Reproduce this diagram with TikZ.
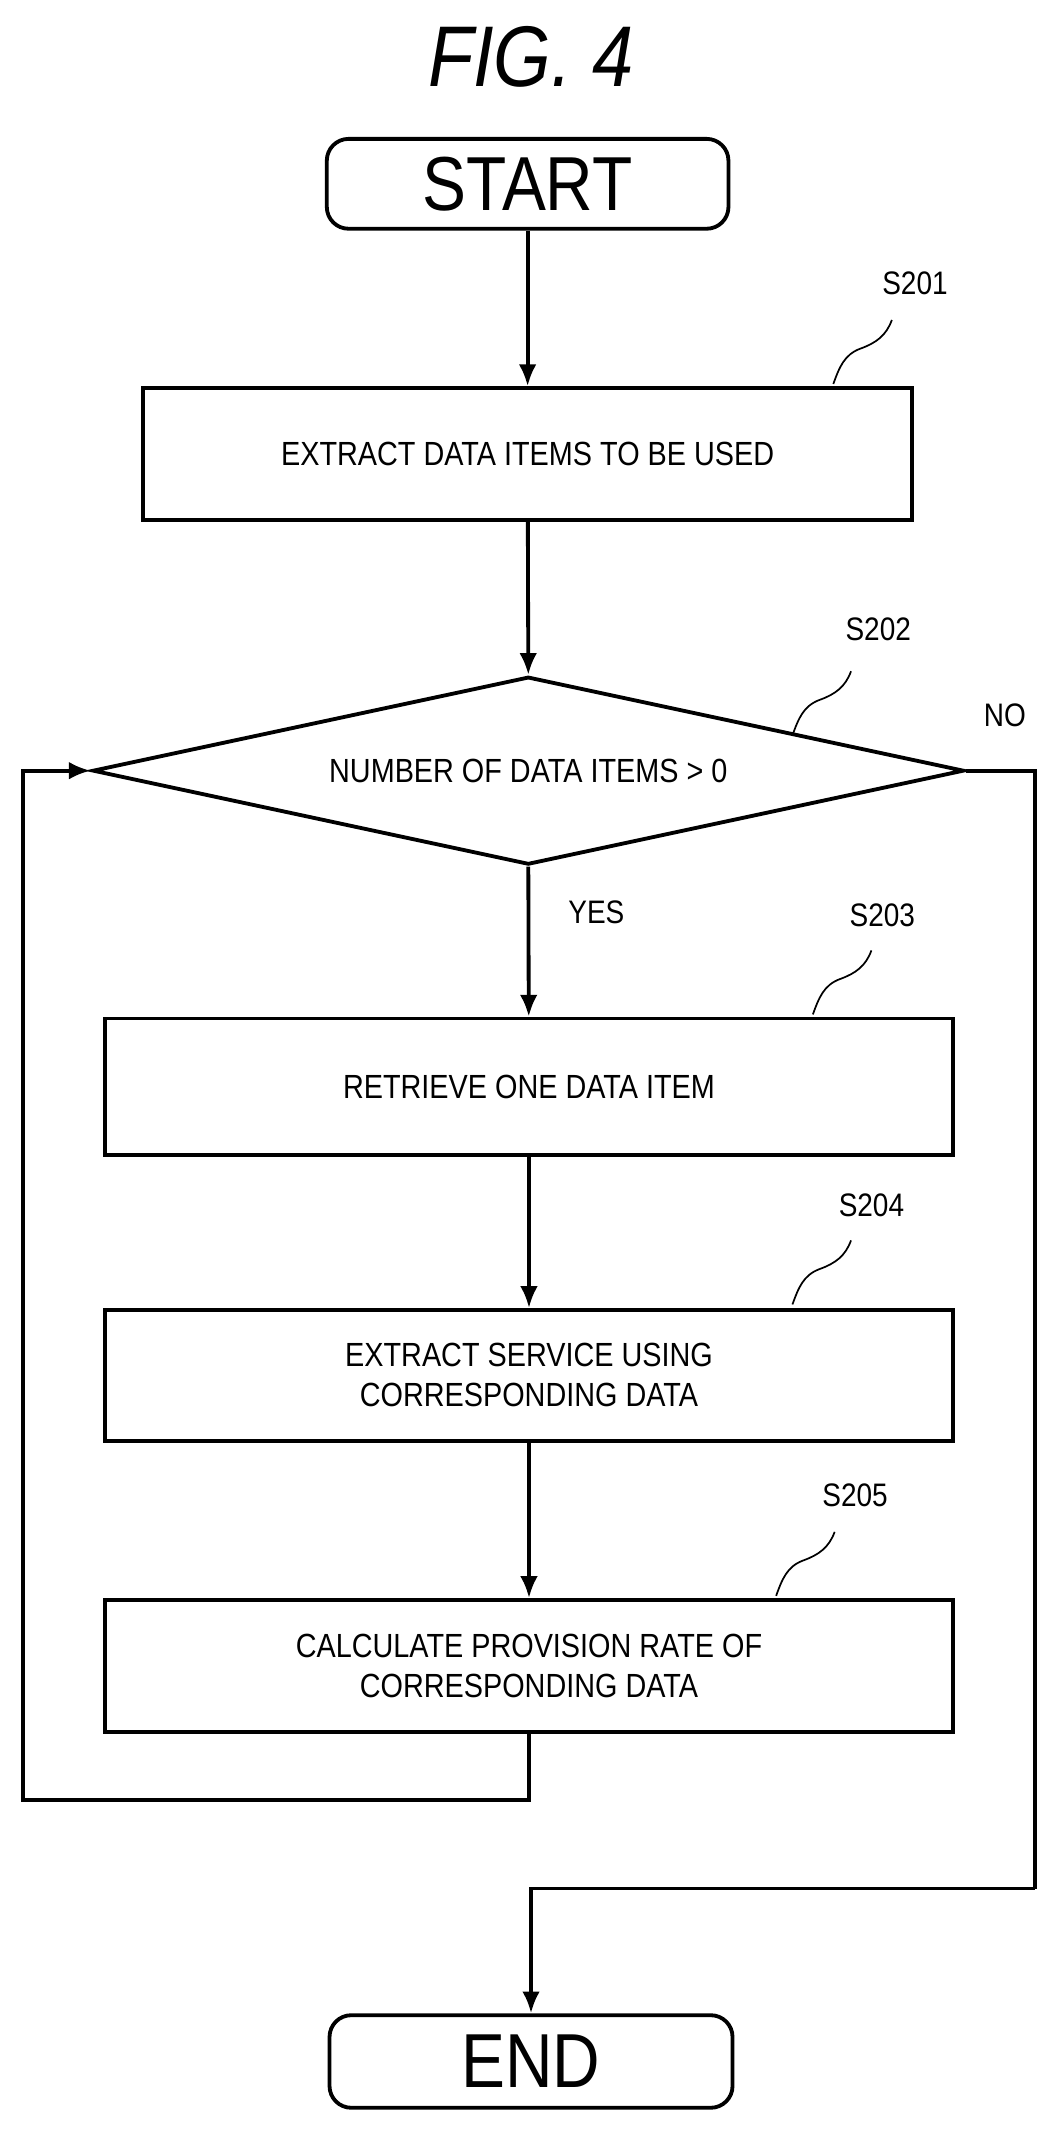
\documentclass[tikz,border=0pt]{standalone}
\usepackage{fontspec}
\setmainfont{Liberation Sans}[FakeStretch=0.86]
\usetikzlibrary{shapes.geometric,arrows.meta}

\tikzset{
  flow/.style={line width=4pt,-{Latex[length=0.8cm,width=0.65cm]}},
  line/.style={line width=4pt},
  stepbox/.style={draw,line width=4pt,rectangle,align=center,font=\fontsize{35}{42}\selectfont,inner sep=0},
  term/.style={draw,line width=4pt,rounded corners=0.8cm,inner sep=0,font=\fontsize{80}{88}\selectfont},
  lbl/.style={font=\fontsize{34}{38}\selectfont},
  pics/squig/.style={code={\draw[line width=1.8pt] (0,0) to[out=70,in=200] (20,-26) to[out=20,in=250] (43,-47);}}
}

\begin{document}
\begin{tikzpicture}[x=0.05cm,y=-0.05cm]
\useasboundingbox (0,0) rectangle (776,1568);

% title
\node (title) at (390,42) {\fontsize{90}{96}\selectfont\itshape FIG. 4};

% terminals and steps
\node[term,minimum width=14.75cm,minimum height=3.3cm] (start) at (387.5,135) {START};
\node[stepbox,minimum width=28.25cm,minimum height=4.85cm] (s201) at (387.5,333.5) {EXTRACT DATA ITEMS TO BE USED};
\node[draw,line width=4pt,diamond,aspect=4.64,inner sep=0,minimum width=32cm,minimum height=6.9cm,font=\fontsize{35}{42}\selectfont] (s202) at (388,566) {NUMBER OF DATA ITEMS > 0};
\node[stepbox,minimum width=31.15cm,minimum height=5cm] (s203) at (388.5,798) {RETRIEVE ONE DATA ITEM};
\node[stepbox,minimum width=31.15cm,minimum height=4.8cm] (s204) at (388.5,1010) {EXTRACT SERVICE USING\\CORRESPONDING DATA};
\node[stepbox,minimum width=31.15cm,minimum height=4.85cm] (s205) at (388.5,1223.5) {CALCULATE PROVISION RATE OF\\CORRESPONDING DATA};
\node[term,minimum width=14.8cm,minimum height=3.4cm] (end) at (390,1514) {END};

% step labels
\node[lbl] (l201) at (672,208) {S201};
\node[lbl] (l202) at (645,462) {S202};
\node[lbl] (l203) at (648,672) {S203};
\node[lbl] (l204) at (640,885) {S204};
\node[lbl] (l205) at (628,1098) {S205};
\pic at (612,282) {squig};
\pic at (582,540) {squig};
\pic at (597,745) {squig};
\pic at (582,958) {squig};
\pic at (570,1172) {squig};

\node[lbl] (yes) at (438,670) {YES};
\node[lbl] (no) at (738,525) {NO};

% connectors
\draw[flow] (start) -- (s201);
\draw[flow] (s201) -- (s202.north);
\draw[flow] (s202.south) -- (s203);
\draw[flow] (s203) -- (s204);
\draw[flow] (s204) -- (s205);
\coordinate (loopA) at (17,1322);
\coordinate (noA) at (760,1387);
\draw[flow] (s205.south) |- (loopA) |- (s202.west);
\draw[line] (s202.east) -| (noA);
\draw[flow] (noA) -| (end.north);
\end{tikzpicture}
\end{document}
